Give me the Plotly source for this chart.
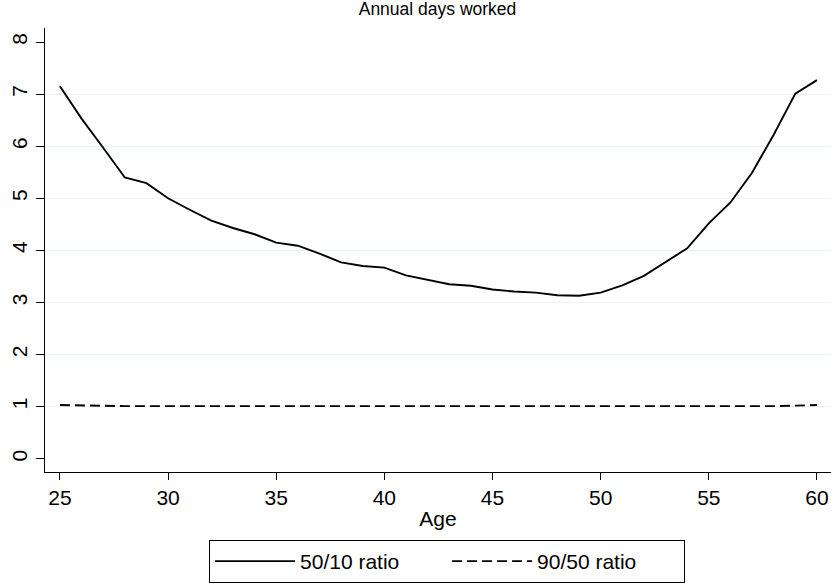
import plotly.graph_objects as go

ages = list(range(25, 61))
ratio_50_10 = [7.15, 6.53, 5.97, 5.40, 5.29, 5.00, 4.78, 4.57, 4.43, 4.31,
               4.15, 4.09, 3.94, 3.77, 3.70, 3.67, 3.52, 3.44, 3.35, 3.32,
               3.25, 3.21, 3.19, 3.14, 3.13, 3.19, 3.33, 3.51, 3.78, 4.04,
               4.52, 4.92, 5.49, 6.22, 7.01, 7.27]
ratio_90_50 = [1.03, 1.02, 1.02, 1.01, 1.01, 1.01, 1.01, 1.01, 1.01, 1.00,
               1.00, 1.00, 1.00, 1.00, 1.00, 1.00, 1.00, 1.00, 1.00, 1.00,
               1.00, 1.00, 1.00, 1.00, 1.00, 1.00, 1.00, 1.00, 1.00, 1.00,
               1.00, 1.00, 1.00, 1.01, 1.02, 1.03]
x_ticks = [25, 30, 35, 40, 45, 50, 55, 60]
y_ticks = [0, 1, 2, 3, 4, 5, 6, 7, 8]
y_grid = [1, 2, 3, 4, 5, 6, 7]

FONT = "Arial, Liberation Sans, sans-serif"

fig = go.Figure()
fig.add_trace(go.Scatter(x=ages, y=ratio_50_10, mode="lines", name="50/10 ratio",
                         line=dict(color="black", width=1.9)))
fig.add_trace(go.Scatter(x=ages, y=ratio_90_50, mode="lines", name="90/50 ratio",
                         line=dict(color="black", width=1.9, dash="10px,5px")))

fig.update_layout(
    width=831, height=583,
    margin=dict(l=45, r=0, t=28, b=111),
    paper_bgcolor="white", plot_bgcolor="white",
    font=dict(family=FONT, color="black"),
    title=dict(text="Annual days worked", x=0.5265, xanchor="center", y=0.995, yanchor="top",
               font=dict(size=17.5, family=FONT, color="black")),
    xaxis=dict(range=[24.31, 60.65], tickvals=x_ticks, showgrid=False, zeroline=False,
               showline=True, linecolor="black", linewidth=1.3,
               ticks="outside", ticklen=7, tickwidth=1.2, tickcolor="black",
               tickfont=dict(size=21), title=dict(text="Age", font=dict(size=21), standoff=2)),
    yaxis=dict(range=[-0.255, 8.27], tickvals=y_ticks, showgrid=False, zeroline=False,
               showline=True, linecolor="black", linewidth=1.3,
               ticks="outside", ticklen=8, tickwidth=1.2, tickcolor="black",
               tickangle=-90, tickfont=dict(size=21)),
    yaxis2=dict(range=[-0.255, 8.27], tickvals=y_grid, overlaying="y", showgrid=True,
                gridcolor="#eaf2f3", gridwidth=1.3, showticklabels=False, zeroline=False,
                showline=False, layer="below traces"),
    showlegend=True,
    legend=dict(orientation="h", x=0.2087, xanchor="left", y=-0.25, yanchor="bottom",
                bordercolor="black", borderwidth=1, bgcolor="white",
                font=dict(size=21), itemwidth=80, entrywidth=142),
)
fig.add_trace(go.Scatter(x=[None], y=[None], yaxis="y2", showlegend=False, hoverinfo="skip"))
fig.write_html("out.html")
